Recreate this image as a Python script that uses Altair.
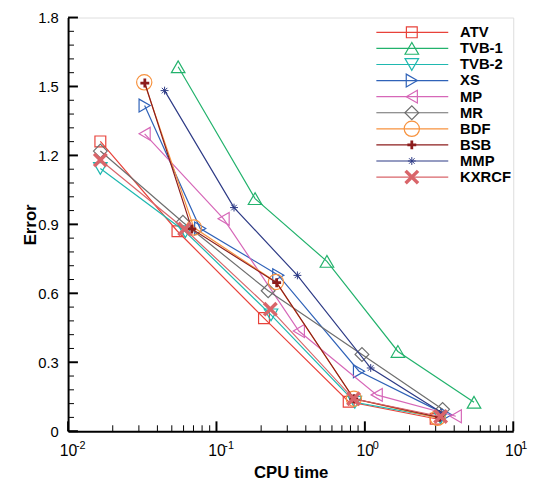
import altair as alt
import pandas as pd

# ---- data ----
names = ["ATV", "TVB-1", "TVB-2", "XS", "MP", "MR", "BDF", "BSB", "MMP", "KXRCF"]

cpu_ATV = [0.0165, 0.0546, 0.209, 0.778, 3.00]
err_ATV = [1.261, 0.870, 0.492, 0.128, 0.054]
cpu_TVB1 = [0.0552, 0.182, 0.555, 1.67, 5.44]
err_TVB1 = [1.586, 1.012, 0.739, 0.347, 0.126]
cpu_TVB2 = [0.0165, 0.0617, 0.233, 0.856, 3.24]
err_TVB2 = [1.143, 0.868, 0.506, 0.126, 0.058]
cpu_XS = [0.0328, 0.0777, 0.261, 0.913, 3.53]
err_XS = [1.417, 0.882, 0.679, 0.261, 0.072]
cpu_MP = [0.0328, 0.1117, 0.359, 1.202, 4.10]
err_MP = [1.294, 0.924, 0.436, 0.158, 0.065]
cpu_MR = [0.0165, 0.0594, 0.223, 0.956, 3.34]
err_MR = [1.219, 0.909, 0.611, 0.334, 0.095]
cpu_BDF = [0.0326, 0.0704, 0.2515, 0.843, 3.09]
err_BDF = [1.518, 0.886, 0.649, 0.141, 0.058]
cpu_BSB = [0.0329, 0.0682, 0.2545, 0.843, 3.19]
err_BSB = [1.515, 0.880, 0.646, 0.141, 0.060]
cpu_MMP = [0.0447, 0.1313, 0.351, 1.095, 3.30]
err_MMP = [1.482, 0.973, 0.678, 0.275, 0.080]
cpu_KXRCF = [0.0165, 0.0610, 0.2307, 0.839, 3.24]
err_KXRCF = [1.180, 0.880, 0.531, 0.141, 0.064]

cpus = [cpu_ATV, cpu_TVB1, cpu_TVB2, cpu_XS, cpu_MP, cpu_MR, cpu_BDF, cpu_BSB, cpu_MMP, cpu_KXRCF]
errs = [err_ATV, err_TVB1, err_TVB2, err_XS, err_MP, err_MR, err_BDF, err_BSB, err_MMP, err_KXRCF]

x_major = [0.01, 0.1, 1, 10]
x_exponents = ["-2", "-1", "0", "1"]
y_major = [0, 0.3, 0.6, 0.9, 1.2, 1.5, 1.8]

# ---- styles ----
colors = ["#e8423a", "#22b26c", "#1fb8b0", "#2f62b8", "#d667b8",
          "#6e6e6e", "#f7923e", "#8c1c1c", "#2d3a85", "#d9656a"]
PLUS = "M-1,0L1,0M0,-1L0,1"
XMARK = "M-1,-1L1,1M-1,1L1,-1"
STAR = "M-1,0L1,0M0,-1L0,1M-0.7,-0.7L0.7,0.7M-0.7,0.7L0.7,-0.7"
shapes = ["square", "triangle-up", "triangle-down", "triangle-right", "triangle-left",
          "diamond", "circle", PLUS, STAR, XMARK]
sizes = [121, 190, 190, 170, 170, 196, 240, 81, 64, 160]
stroke_w = [1.2, 1.2, 1.2, 1.2, 1.2, 1.2, 1.2, 2.8, 1.0, 3.5]

FONT = "Liberation Sans"
W, H = 452, 420

x_scale = alt.Scale(type="log", domain=[0.01, 10])
y_scale = alt.Scale(domain=[0, 1.8], nice=False, zero=False)

x_axis = alt.Axis(
    values=x_major,
    labelExpr="'10'",
    ticks=False, grid=False, domainColor="black", domainWidth=2,
    labelFont=FONT, labelFontSize=16, labelColor="black", labelPadding=12,
    labelFlush=False, labelOverlap=False,
    title="CPU time", titleFont=FONT, titleFontSize=17, titleFontWeight="bold",
    titleColor="black", titlePadding=6,
)
y_axis = alt.Axis(
    values=y_major, format="~g",
    ticks=False, grid=False, domainColor="black", domainWidth=2,
    labelFont=FONT, labelFontSize=15, labelColor="black", labelPadding=10,
    labelFlush=False, labelOverlap=False,
    title="Error", titleFont=FONT, titleFontSize=17, titleFontWeight="bold",
    titleColor="black", titleX=-38, titleBaseline="middle",
)

X = alt.X("cpu:Q", scale=x_scale, axis=x_axis)
Y = alt.Y("err:Q", scale=y_scale, axis=y_axis)

main_layers = []

# inward tick marks
x_minor = [m * d for d in [0.01, 0.1, 1] for m in range(2, 10)]
y_minor = [round(i * 0.06, 2) for i in range(31) if i % 5 != 0]

main_layers.append(alt.Chart(pd.DataFrame({"cpu": x_major})).mark_rule(color="black", strokeWidth=2).encode(
    x=X, y=alt.value(H), y2=alt.value(H - 10)))
main_layers.append(alt.Chart(pd.DataFrame({"cpu": x_minor})).mark_rule(color="black", strokeWidth=1).encode(
    x=X, y=alt.value(H), y2=alt.value(H - 6)))
main_layers.append(alt.Chart(pd.DataFrame({"err": y_major})).mark_rule(color="black", strokeWidth=2).encode(
    y=Y, x=alt.value(0), x2=alt.value(10)))
main_layers.append(alt.Chart(pd.DataFrame({"err": y_minor})).mark_rule(color="black", strokeWidth=1).encode(
    y=Y, x=alt.value(0), x2=alt.value(6)))

# superscript exponents of the x tick labels
main_layers.append(alt.Chart(pd.DataFrame({"cpu": x_major, "exp": x_exponents})).mark_text(
    align="left", baseline="middle", font=FONT, fontSize=11, color="black", dx=8, clip=False).encode(
    x=X, y=alt.value(H + 15), text="exp:N"))

for i, n in enumerate(names):
    df = pd.DataFrame({"cpu": cpus[i], "err": errs[i]})
    base = alt.Chart(df)
    main_layers.append(base.mark_line(color=colors[i], strokeWidth=1.2).encode(x=X, y=Y))
    main_layers.append(base.mark_point(shape=shapes[i], size=sizes[i], filled=False,
                                       color=colors[i], strokeWidth=stroke_w[i], opacity=1).encode(x=X, y=Y))

main = alt.layer(*main_layers)

# ---- legend (drawn inside plot area, top right) ----
leg_y = alt.Y("name:N", scale=alt.Scale(type="point", domain=names, range=[15, 162], padding=0), axis=None)
leg_layers = []
for i, n in enumerate(names):
    ldf = pd.DataFrame({"name": [n]})
    lb = alt.Chart(ldf)
    leg_layers.append(lb.mark_rule(color=colors[i], strokeWidth=1.2).encode(
        y=leg_y, x=alt.value(313), x2=alt.value(386)))
    leg_layers.append(lb.mark_point(shape=shapes[i], size=sizes[i], filled=False,
                                    color=colors[i], strokeWidth=stroke_w[i], opacity=1).encode(
        y=leg_y, x=alt.value(349)))
    leg_layers.append(lb.mark_text(align="left", baseline="middle", font=FONT, fontSize=15,
                                   fontWeight="bold", color="black").encode(
        y=leg_y, x=alt.value(398), text="name:N"))
legend = alt.layer(*leg_layers)

chart = alt.layer(main, legend).resolve_scale(y="independent").properties(
    width=W, height=H,
    autosize=alt.AutoSizeParams(type="none"),
    padding={"left": 61, "top": 6, "right": 17, "bottom": 54},
).configure_view(stroke=None).configure(background="white")

chart.save("out.html", embed_options={"renderer": "svg", "actions": False})
